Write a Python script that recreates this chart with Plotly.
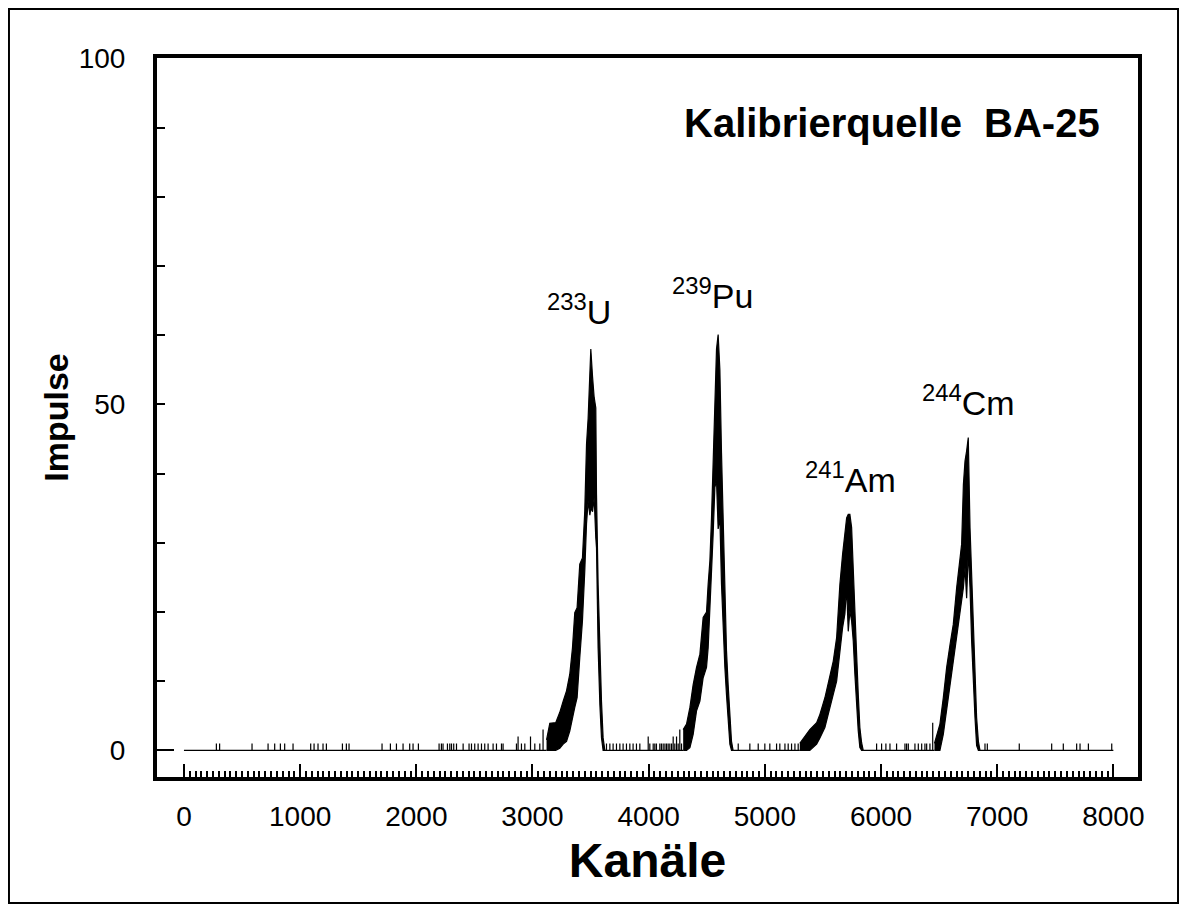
import plotly.graph_objects as go

# ---------------- data ----------------
# isolated background counts: channel, counts
bg_channels = [279, 307, 586, 724, 781, 830, 867, 939, 1091, 1120, 1154, 1197, 1226,
               1364, 1398, 1421, 1705, 1777, 1829, 1886, 1943, 1972, 2018, 2196, 2216,
               2230, 2268, 2288, 2303, 2322, 2346, 2403, 2454, 2475, 2503, 2532, 2561,
               2589, 2618, 2661, 2690, 2733, 2747, 2862, 2876, 2905, 2934, 2983, 3020,
               3063, 3091,
               3637, 3666, 3694, 3723, 3752, 3780, 3809, 3838, 3866, 3895, 3924, 3996,
               4010, 4039, 4053, 4067, 4096, 4110, 4125, 4140, 4154, 4168, 4182, 4197,
               4211, 4225, 4240, 4254, 4268, 4283,
               4771, 4871, 4943, 5000, 5043, 5101, 5129, 5173, 5201, 5230, 5259, 5287,
               5962, 6005, 6042, 6077, 6134, 6206, 6220, 6235, 6292, 6321, 6350, 6378,
               6393, 6421, 6445,
               6895, 6915, 7190, 7469, 7569, 7684, 7713, 7785, 7986]
bg_counts = [1, 1, 1, 1, 1, 1, 1, 1, 1, 1, 1, 1, 1,
             1, 1, 1, 1, 1, 1, 1, 1, 1, 1, 1, 1,
             1, 1, 1, 1, 1, 1, 1, 1, 1, 1, 1, 1,
             1, 1, 1, 1, 1, 1, 1, 2, 1, 1, 2, 1,
             1, 3,
             1, 1, 1, 1, 1, 1, 1, 1, 1, 1, 1, 2,
             1, 1, 1, 1, 1, 1, 1, 1, 1, 1, 1, 1,
             2, 1, 2, 1, 3, 1,
             1, 1, 1, 1, 1, 1, 1, 1, 1, 1, 1, 1,
             1, 1, 1, 1, 1, 1, 1, 1, 1, 1, 1, 1,
             1, 1, 4,
             1, 1, 1, 1, 1, 1, 1, 1, 1]

# peak regions: channel, upper and lower envelope of the counts
u233_ch = [3121, 3149, 3200, 3235, 3264, 3293, 3321, 3344, 3364, 3384, 3407, 3430, 3450,
           3465, 3479, 3494, 3502, 3517, 3531, 3545, 3551, 3565, 3580, 3594, 3608, 3623]
u233_hi = [1.5, 3.9, 4.0, 5.5, 7.1, 8.6, 11.0, 14.8, 19.9, 20.6, 26.9, 27.8, 34.6,
           44.2, 48.0, 55.0, 58.0, 54.0, 51.0, 49.5, 37.0, 24.0, 14.8, 7.1, 1.8, 0]
u233_lo = [0, 0, 0, 0.3, 0.9, 1.3, 2.8, 4.7, 6.2, 7.6, 13.4, 18.7, 25.9,
           32.7, 36.0, 34.0, 35.0, 34.5, 36.5, 30.7, 29.3, 14.8, 6.6, 1.8, 0, 0]

pu239_ch = [4297, 4326, 4355, 4383, 4412, 4441, 4469, 4498, 4512, 4527, 4541, 4555, 4570,
            4584, 4598, 4613, 4627, 4641, 4656, 4670, 4684, 4699, 4713, 4727]
pu239_hi = [3.0, 3.8, 6.2, 9.5, 12.0, 13.9, 19.2, 20.0, 24.0, 27.4, 33.6, 40.8, 51.0,
            58.0, 60.1, 55.0, 43.0, 33.6, 20.6, 14.4, 9.5, 4.7, 1.3, 0]
pu239_lo = [0, 0, 0.4, 2.3, 5.7, 7.1, 10.5, 12.0, 14.8, 19.2, 25.0, 31.2, 38.0,
            39.0, 32.0, 33.6, 24.0, 19.0, 12.0, 8.0, 4.2, 0.9, 0, 0]

am241_ch = [5301, 5387, 5446, 5474, 5517, 5560, 5589, 5618, 5646, 5669, 5689, 5704, 5718,
            5732, 5747, 5761, 5775, 5790, 5804, 5818, 5833, 5847]
am241_hi = [1.0, 3.0, 4.0, 5.2, 7.6, 11.0, 12.9, 16.3, 24.0, 28.3, 31.2, 33.6, 34.1,
            34.1, 32.2, 25.4, 19.7, 13.9, 8.1, 3.3, 1.1, 0]
am241_lo = [0, 0, 0.9, 1.8, 3.3, 6.2, 8.1, 10.0, 13.9, 17.7, 19.7, 23.5, 17.2,
            20.1, 18.7, 15.8, 11.0, 6.2, 2.8, 0.4, 0, 0]

cm244_ch = [6460, 6507, 6536, 6565, 6594, 6622, 6651, 6680, 6694, 6709, 6723, 6737, 6751,
            6766, 6780, 6795, 6809, 6823, 6838, 6852]
cm244_hi = [1.0, 3.8, 7.6, 12.0, 15.3, 18.2, 23.5, 27.4, 29.8, 38.4, 41.8, 43.3, 45.2,
            32.2, 25.4, 16.8, 10.5, 4.7, 1.3, 0]
cm244_lo = [0, 0, 2.3, 5.7, 9.5, 12.9, 16.8, 19.7, 21.6, 23.5, 26.4, 22.0, 28.8,
            23.5, 15.8, 9.5, 4.7, 0.7, 0, 0]

peak_names = ["<sup>233</sup>U", "<sup>239</sup>Pu", "<sup>241</sup>Am", "<sup>244</sup>Cm"]

x_ticks = list(range(0, 8001, 500))
x_ticktext = [str(v) if v % 1000 == 0 else "" for v in x_ticks]
y_ticks = list(range(0, 101, 10))
y_ticktext = [str(v) if v % 50 == 0 else "" for v in y_ticks]
ch_min, ch_max = 0, 8000

# ---------------- build traces ----------------
FONT = "Liberation Sans, Arial, Helvetica, sans-serif"
peaks = [(u233_ch, u233_hi, u233_lo), (pu239_ch, pu239_hi, pu239_lo),
         (am241_ch, am241_hi, am241_lo), (cm244_ch, cm244_hi, cm244_lo)]

base_x, base_y = [], []
start = ch_min
bounds = [(p[0][0], p[0][-1]) for p in peaks] + [(ch_max, None)]
for p_start, p_end in bounds:
    base_x.append(start); base_y.append(0)
    for c, n in zip(bg_channels, bg_counts):
        if start < c < p_start:
            base_x += [c, c, c]
            base_y += [0, n, 0]
    base_x.append(p_start); base_y.append(0)
    base_x.append(None); base_y.append(None)
    start = p_end

fig = go.Figure()
fig.add_trace(go.Scatter(x=base_x, y=base_y, mode="lines",
                         line=dict(color="black", width=1.2), hoverinfo="skip",
                         showlegend=False))
for ch, hi, lo in peaks:
    fig.add_trace(go.Scatter(x=ch + ch[::-1], y=hi + lo[::-1], mode="lines",
                             fill="toself", fillcolor="black",
                             line=dict(color="black", width=1.2),
                             hoverinfo="skip", showlegend=False))

# peak labels
label_pos = [(3399, 60.3), (4553, 62.6), (5741, 36.1), (6757, 47.2)]
for name, (lx, ly) in zip(peak_names, label_pos):
    fig.add_annotation(x=lx, y=ly, text=name, showarrow=False, xanchor="center",
                       yanchor="bottom", font=dict(family=FONT, size=34, color="black"))

fig.add_annotation(x=0.963, y=0.909, xref="paper", yref="paper",
                   text="Kalibrierquelle\u00a0\u00a0BA-25", showarrow=False,
                   xanchor="right", yanchor="middle",
                   font=dict(family=FONT, size=40, color="black", weight="bold"))

# outer frame of the figure
fig.add_shape(type="rect", xref="paper", yref="paper",
              x0=-0.1509, x1=1.0408, y0=-0.1752, y1=1.0681,
              line=dict(color="black", width=2), fillcolor="rgba(0,0,0,0)")

fig.update_layout(
    width=1171, height=896,
    margin=dict(l=149, r=41, t=50, b=127),
    paper_bgcolor="white", plot_bgcolor="white",
    font=dict(family=FONT, size=28, color="black"),
    xaxis=dict(range=[-232, 8212], tickmode="array", tickvals=x_ticks,
               ticktext=x_ticktext, ticks="inside", ticklen=13, tickwidth=2,
               tickcolor="black", showline=True, linewidth=4, linecolor="black",
               mirror=True, showgrid=False, zeroline=False, ticklabelstandoff=11,
               minor=dict(tickmode="array", tickvals=list(range(0, 8001, 50)),
                          ticks="inside", ticklen=6, tickwidth=1.5, tickcolor="black"),
               title=dict(text="Kanäle", standoff=14,
                          font=dict(family=FONT, size=48, color="black", weight="bold")),
               tickfont=dict(family=FONT, size=28, color="black")),
    yaxis=dict(range=[-3.85, 100.05], tickmode="array", tickvals=y_ticks,
               ticktext=y_ticktext, ticks="inside", ticklen=8, tickwidth=2,
               tickcolor="black", showline=True, linewidth=4, linecolor="black",
               mirror=True, showgrid=False, zeroline=False, ticklabelstandoff=22,
               title=dict(text="Impulse", standoff=1,
                          font=dict(family=FONT, size=34, color="black", weight="bold")),
               tickfont=dict(family=FONT, size=28, color="black")),
    yaxis2=dict(range=[-3.85, 100.05], overlaying="y", side="left", anchor="x",
                tickmode="array", tickvals=[0], ticks="inside", ticklen=17,
                tickwidth=2, tickcolor="black", showticklabels=False,
                showline=False, showgrid=False, zeroline=False),
)
# dummy trace to activate the overlay axis
fig.add_trace(go.Scatter(x=[None], y=[None], yaxis="y2", showlegend=False,
                         hoverinfo="skip"))

fig.write_html("out.html")
